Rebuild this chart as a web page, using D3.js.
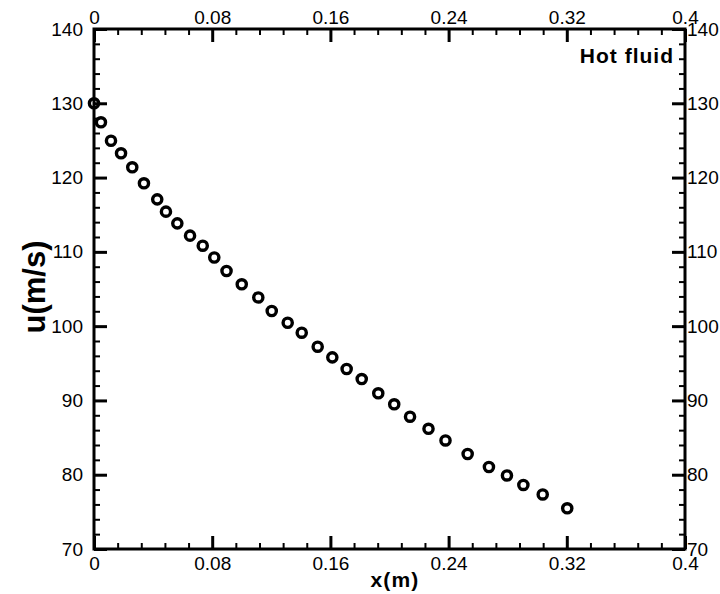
<!DOCTYPE html>
<html>
<head>
<meta charset="utf-8">
<script src="https://cdn.jsdelivr.net/npm/d3@7"></script>
<style>
  html, body { margin: 0; padding: 0; background: #fff; }
  svg { display: block; }
  .tick text { font-family: "Liberation Sans", Arial, sans-serif; font-size: 19px; fill: #000; }
</style>
</head>
<body>
<svg id="chart" width="720" height="594"></svg>
<script>
// Axial velocity of the hot fluid along the channel
const xPositions = [0, 0.0047, 0.0115, 0.0183, 0.0259, 0.0338, 0.0428, 0.0487, 0.0564, 0.0650,
  0.0736, 0.0814, 0.0897, 0.1000, 0.1112, 0.1203, 0.1311, 0.1406, 0.1514, 0.1613,
  0.1710, 0.1812, 0.1924, 0.2032, 0.2139, 0.2264, 0.2379, 0.2529, 0.2673, 0.2795,
  0.2906, 0.3037, 0.3203];
const velocities = [130.0, 127.44, 124.96, 123.27, 121.38, 119.23, 117.07, 115.41, 113.84, 112.18,
  110.83, 109.24, 107.42, 105.63, 103.86, 102.04, 100.46, 99.12, 97.23, 95.80,
  94.23, 92.88, 90.96, 89.48, 87.81, 86.18, 84.61, 82.79, 81.04, 79.90,
  78.62, 77.34, 75.48];

const xTicks = [0, 0.08, 0.16, 0.24, 0.32, 0.4];
const yTicks = [70, 80, 90, 100, 110, 120, 130, 140];
const xLabel = "x(m)";
const yLabel = "u(m/s)";
const seriesLabel = "Hot fluid";

const svg = d3.select("#chart");
const plot = { left: 94, right: 685, top: 29, bottom: 549 };

const x = d3.scaleLinear().domain([0, 0.4]).range([plot.left, plot.right]);
const y = d3.scaleLinear().domain([70, 140]).range([plot.bottom, plot.top]);

const fmt = d => String(+d.toFixed(2));
const xMinor = d3.range(0, 0.4 + 1e-9, 0.016).filter(v => !xTicks.some(t => Math.abs(t - v) < 1e-9));
const yMinor = d3.range(70, 141, 2).filter(v => !yTicks.includes(v));

function addAxis(axisFn, scale, transform, major, minor, pad) {
  const gMinor = svg.append("g").attr("transform", transform)
    .call(axisFn(scale).tickValues(minor).tickSize(-6).tickFormat(""));
  gMinor.select(".domain").remove();
  gMinor.selectAll(".tick line").attr("stroke", "#000").attr("stroke-width", 2);
  const gMajor = svg.append("g").attr("transform", transform)
    .call(axisFn(scale).tickValues(major).tickSize(-13).tickPadding(pad).tickFormat(fmt));
  gMajor.select(".domain").remove();
  gMajor.selectAll(".tick line").attr("stroke", "#000").attr("stroke-width", 3);
  return gMajor;
}

addAxis(d3.axisBottom, x, `translate(0,${plot.bottom})`, xTicks, xMinor, 8);
addAxis(d3.axisTop, x, `translate(0,${plot.top})`, xTicks, xMinor, 5);
addAxis(d3.axisLeft, y, `translate(${plot.left},0)`, yTicks, yMinor, 11);
addAxis(d3.axisRight, y, `translate(${plot.right},0)`, yTicks, yMinor, 2);

// frame
svg.append("rect")
  .attr("x", plot.left).attr("y", plot.top)
  .attr("width", plot.right - plot.left).attr("height", plot.bottom - plot.top)
  .attr("fill", "none").attr("stroke", "#000").attr("stroke-width", 3);

// data markers
svg.append("g").selectAll("circle")
  .data(xPositions.map((v, i) => [v, velocities[i]]))
  .join("circle")
  .attr("cx", d => x(d[0]))
  .attr("cy", d => y(d[1]))
  .attr("r", 4.6)
  .attr("fill", "none")
  .attr("stroke", "#000")
  .attr("stroke-width", 3.4);

// axis titles
svg.append("text")
  .attr("x", 395).attr("y", 587)
  .attr("text-anchor", "middle")
  .attr("font-family", "Liberation Sans, Arial, sans-serif")
  .attr("font-weight", "bold").attr("font-size", 21)
  .attr("letter-spacing", 1.2)
  .text(xLabel);

svg.append("text")
  .attr("transform", "translate(45,287) rotate(-90)")
  .attr("text-anchor", "middle")
  .attr("font-family", "Liberation Sans, Arial, sans-serif")
  .attr("font-weight", "bold").attr("font-size", 31)
  .text(yLabel);

svg.append("text")
  .attr("x", 674).attr("y", 63)
  .attr("text-anchor", "end")
  .attr("font-family", "Liberation Sans, Arial, sans-serif")
  .attr("font-weight", "bold").attr("font-size", 21)
  .attr("letter-spacing", 1)
  .text(seriesLabel);
</script>
</body>
</html>
